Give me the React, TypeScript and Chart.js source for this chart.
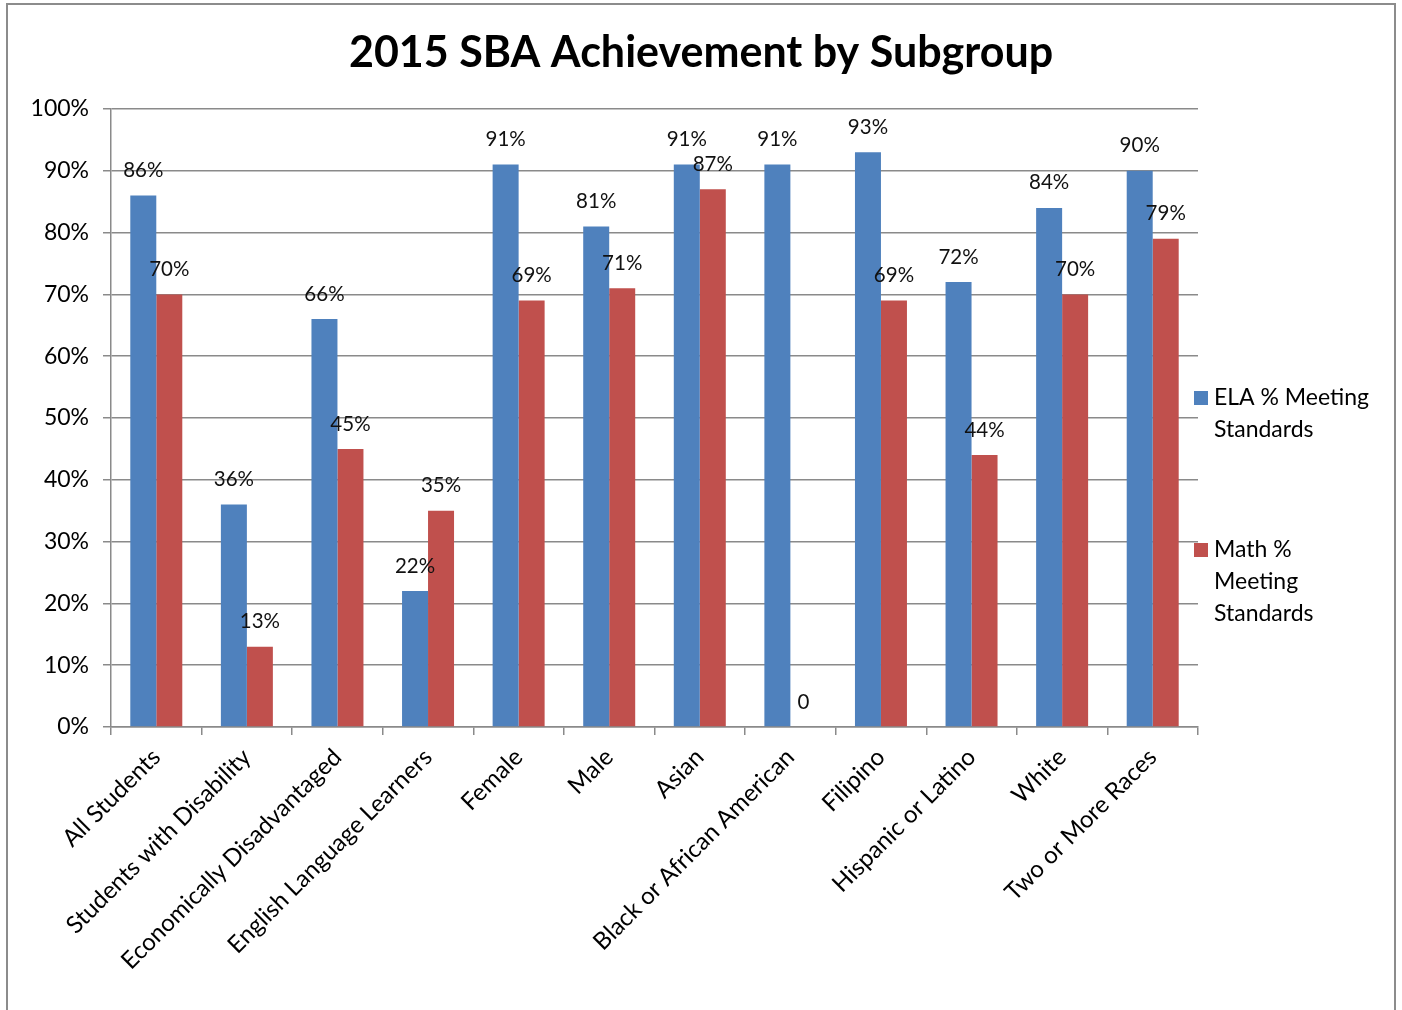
import React, { useEffect, useRef } from "react";
import { Chart, registerables } from "chart.js";

Chart.register(...registerables);

const chartTitle = "2015 SBA Achievement by Subgroup";
const categories = [
  "All Students",
  "Students with Disability",
  "Economically Disadvantaged",
  "English Language Learners",
  "Female",
  "Male",
  "Asian",
  "Black or African American",
  "Filipino",
  "Hispanic or Latino",
  "White",
  "Two or More Races",
];
const elaValues = [86, 36, 66, 22, 91, 81, 91, 91, 93, 72, 84, 90];
const mathValues = [70, 13, 45, 35, 69, 71, 87, 0, 69, 44, 70, 79];
const seriesNames = ["ELA % Meeting Standards", "Math % Meeting Standards"];
const legendLines = [["ELA % Meeting", "Standards"], ["Math %", "Meeting", "Standards"]];
const seriesColors = ["#4F81BD", "#C0504D"];

const FONT = "Lato, 'Open Sans', sans-serif";
const GRID = "#8a8a8a";

const decorPlugin = {
  id: "decor",
  beforeDraw(chart: any) {
    const ctx = chart.ctx;
    ctx.save();
    ctx.fillStyle = "#ffffff";
    ctx.fillRect(0, 0, chart.width, chart.height);
    ctx.strokeStyle = "#8c8c8c";
    ctx.lineWidth = 2;
    ctx.strokeRect(7, 4, 1388, 1030);
    ctx.restore();
  },
  afterDraw(chart: any) {
    const ctx = chart.ctx;
    ctx.save();
    // title
    ctx.fillStyle = "#000";
    ctx.font = `bold 43px ${FONT}`;
    ctx.textAlign = "center";
    ctx.textBaseline = "middle";
    ctx.fillText(chartTitle, 701, 53);
    // legend
    const area = chart.chartArea;
    const lx = area.right - 4;
    const starts = [398, 550];
    ctx.font = `23px ${FONT}`;
    ctx.textAlign = "left";
    chart.data.datasets.forEach((ds: any, i: number) => {
      const y0 = starts[i];
      ctx.fillStyle = ds.backgroundColor;
      ctx.fillRect(lx, y0 - 7, 14, 14);
      ctx.fillStyle = "#000";
      legendLines[i].forEach((line, j) => {
        ctx.fillText(line, lx + 20, y0 + j * 32);
      });
    });
    ctx.restore();
  },
  afterDatasetsDraw(chart: any) {
    const ctx = chart.ctx;
    ctx.save();
    ctx.font = `20.5px ${FONT}`;
    ctx.fillStyle = "#111";
    ctx.textAlign = "center";
    ctx.textBaseline = "middle";
    chart.data.datasets.forEach((ds: any, di: number) => {
      const meta = chart.getDatasetMeta(di);
      meta.data.forEach((el: any, i: number) => {
        const v = ds.data[i];
        const txt = v === 0 ? "0" : `${v}%`;
        ctx.fillText(txt, el.x, el.y - 25);
      });
    });
    ctx.restore();
  },
};

export default function App() {
  const ref = useRef<HTMLCanvasElement | null>(null);
  useEffect(() => {
    if (!ref.current) return;
    const chart = new Chart(ref.current, {
      type: "bar",
      data: {
        labels: categories,
        datasets: [
          {
            label: seriesNames[0],
            data: elaValues,
            backgroundColor: seriesColors[0],
            categoryPercentage: 0.574,
            barPercentage: 1,
          },
          {
            label: seriesNames[1],
            data: mathValues,
            backgroundColor: seriesColors[1],
            categoryPercentage: 0.574,
            barPercentage: 1,
          },
        ],
      },
      options: {
        responsive: false,
        animation: false,
        devicePixelRatio: 1,
        layout: { padding: { top: 109, right: 204, left: 0, bottom: 0 } },
        plugins: {
          legend: { display: false },
          title: { display: false },
          tooltip: { enabled: false },
        },
        scales: {
          x: {
            grid: {
              display: true,
              drawOnChartArea: false,
              drawTicks: true,
              tickLength: 8,
              color: GRID,
              lineWidth: 1.5,
              offset: true,
            },
            border: { display: true, color: GRID, width: 1.5 },
            ticks: {
              maxRotation: 45,
              minRotation: 45,
              autoSkip: false,
              padding: 8,
              color: "#000",
              font: { family: FONT, size: 24 },
            },
            afterFit(scale: any) {
              scale.height = 283;
            },
          },
          y: {
            min: 0,
            max: 100,
            grid: {
              color: GRID,
              lineWidth: 1.5,
              tickLength: 8,
            },
            border: { display: true, color: GRID, width: 1.5 },
            ticks: {
              stepSize: 10,
              padding: 14,
              color: "#000",
              font: { family: FONT, size: 23 },
              callback: (v: any) => `${v}%`,
            },
            afterFit(scale: any) {
              scale.width = 111;
            },
          },
        },
      },
      plugins: [decorPlugin],
    } as any);
    return () => chart.destroy();
  }, []);
  return (
    <div style={{ position: "absolute", left: 0, top: 0, width: 1402, height: 1010 }}>
      <canvas ref={ref} width={1402} height={1010} />
    </div>
  );
}
